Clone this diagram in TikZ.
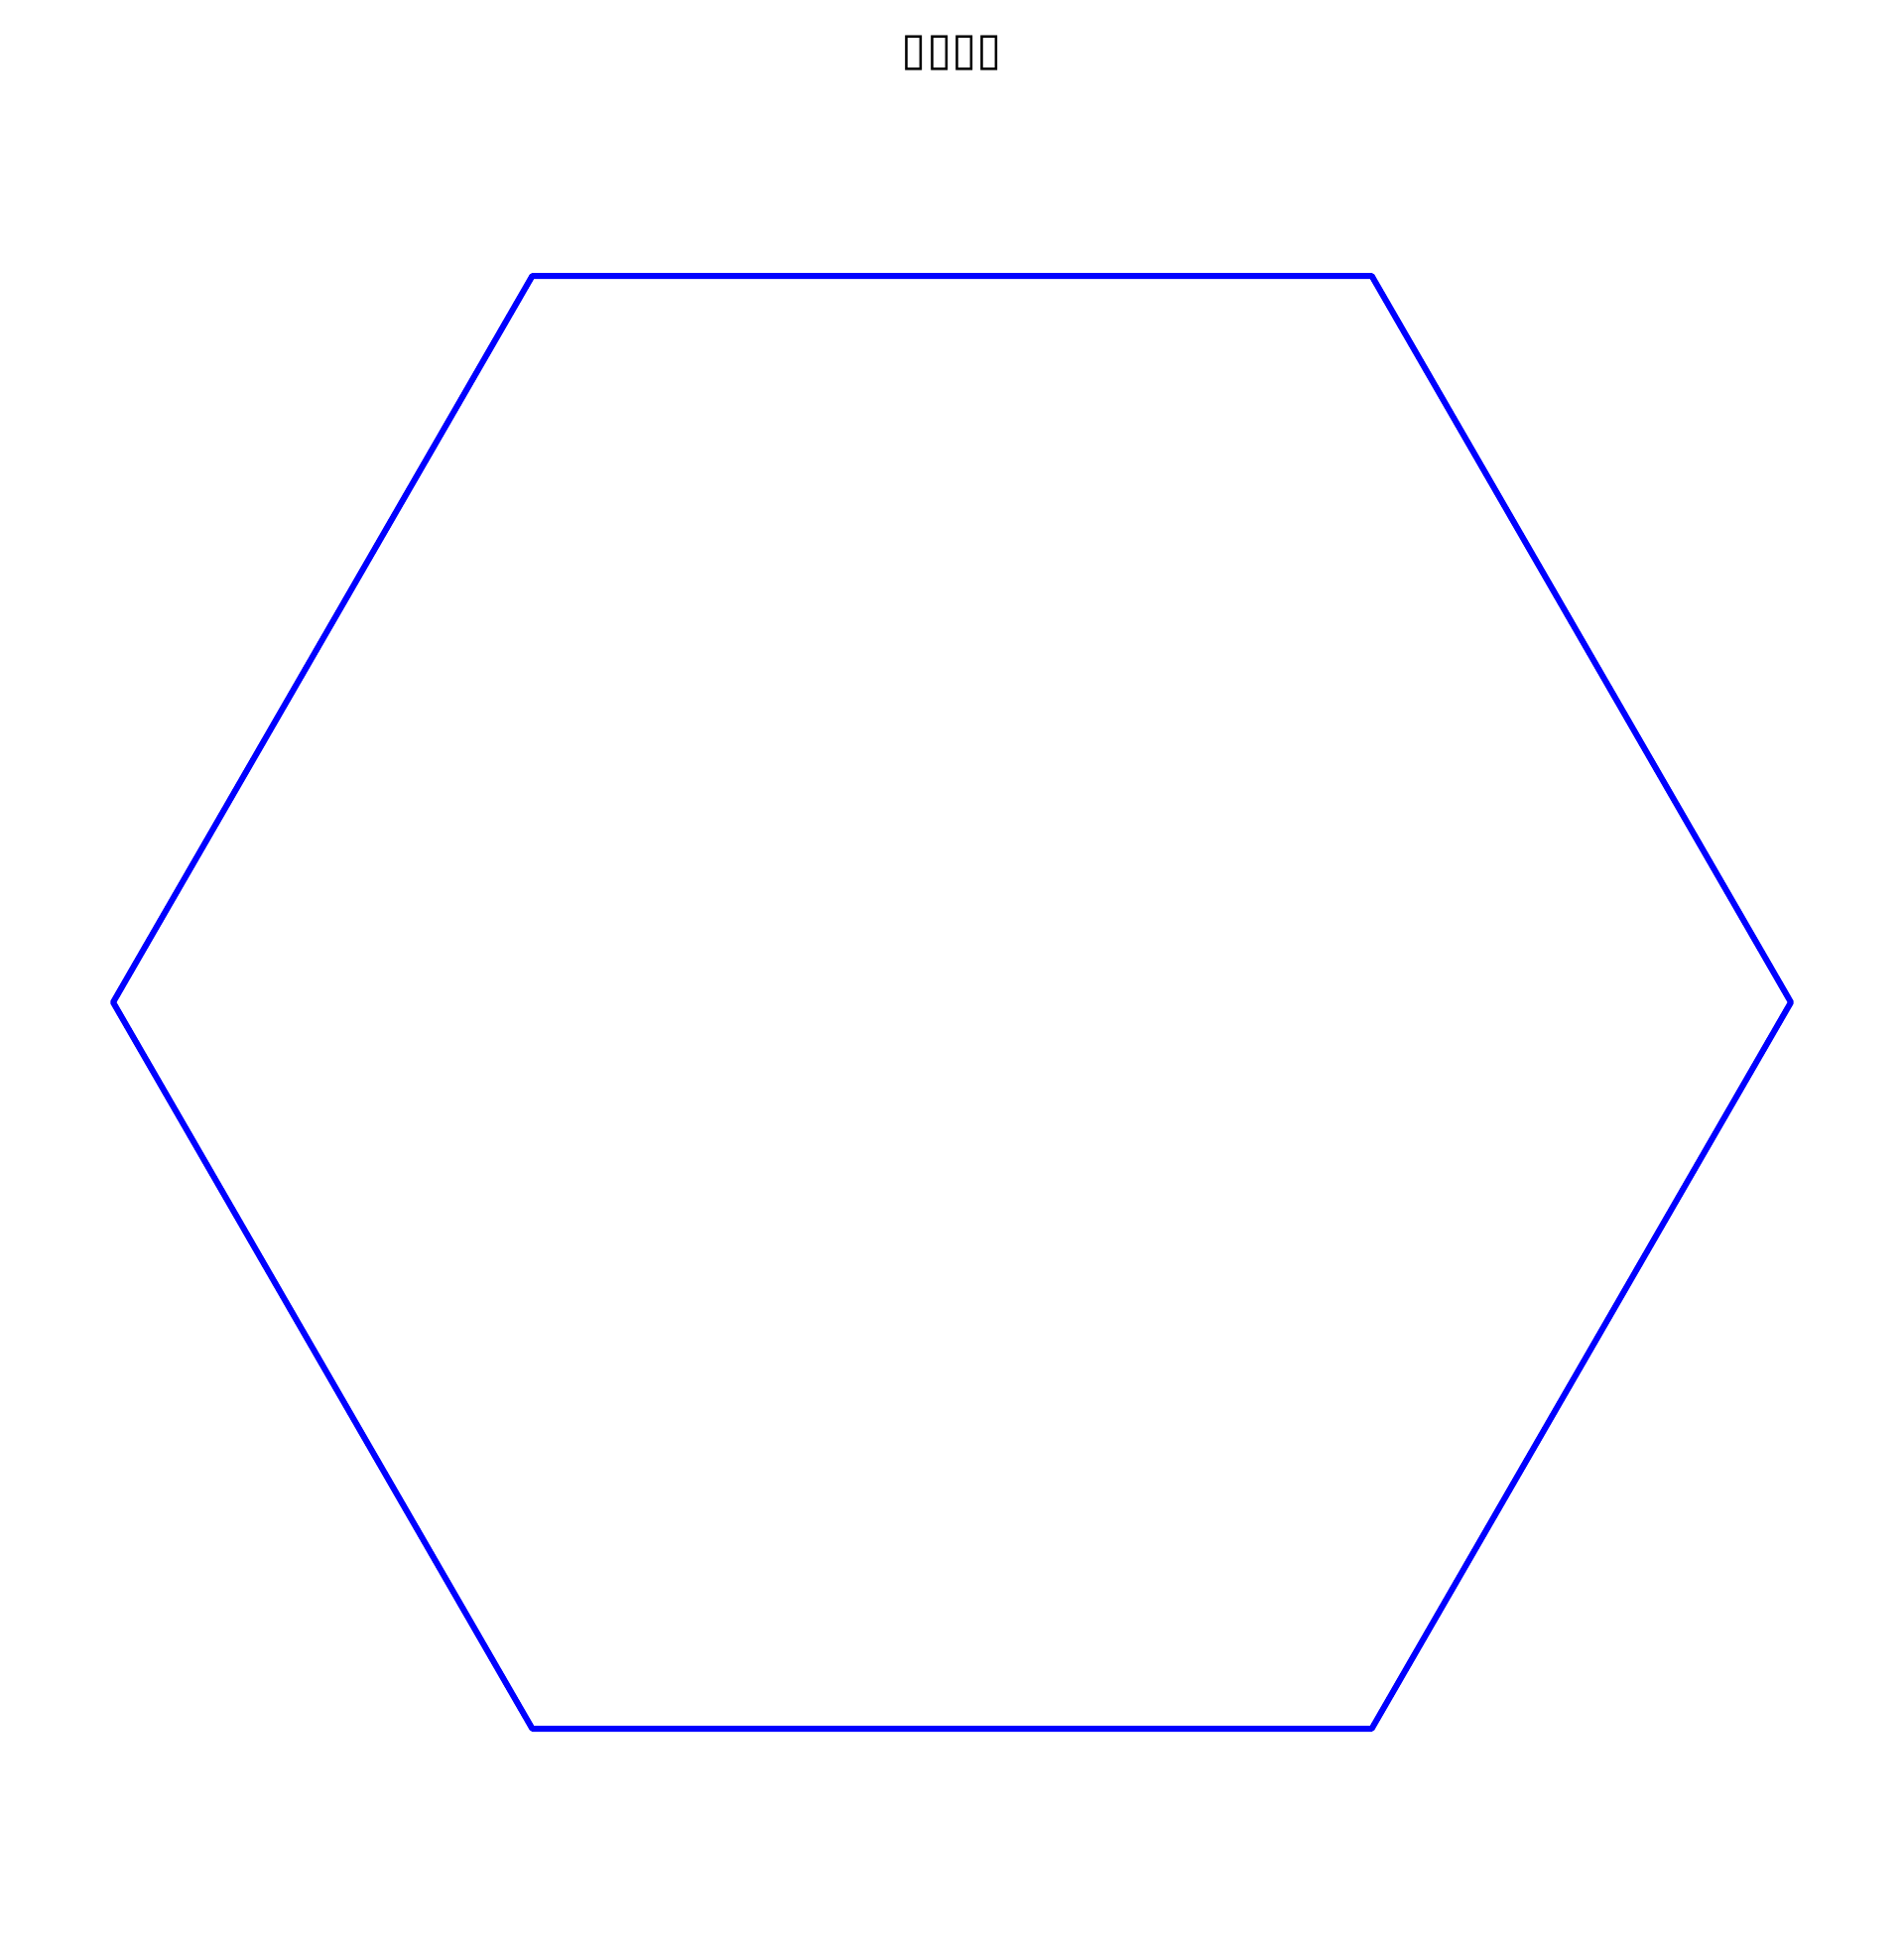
\documentclass[tikz,border=0pt]{standalone}
\usepackage{fontspec}
\newfontfamily\symfont{DejaVu Sans}
\begin{document}
\begin{tikzpicture}[x=1pt,y=-1pt,
  hexline/.style={draw=blue,line width=6pt,line join=round,line cap=round},
  titletext/.style={font=\symfont\fontsize{46}{50}\selectfont,inner sep=0pt}]
\useasboundingbox (0,0) rectangle (1919,1965);
\node[titletext] (title) at (959.5,54) {▯▯▯▯};
\coordinate (v1) at (1805,1010);
\coordinate (v2) at (1382.5,278);
\coordinate (v3) at (536.5,278);
\coordinate (v4) at (114,1010);
\coordinate (v5) at (536.5,1742);
\coordinate (v6) at (1382.5,1742);
\draw[hexline] (v1) -- (v2) -- (v3) -- (v4) -- (v5) -- (v6) -- cycle;
\end{tikzpicture}
\end{document}
